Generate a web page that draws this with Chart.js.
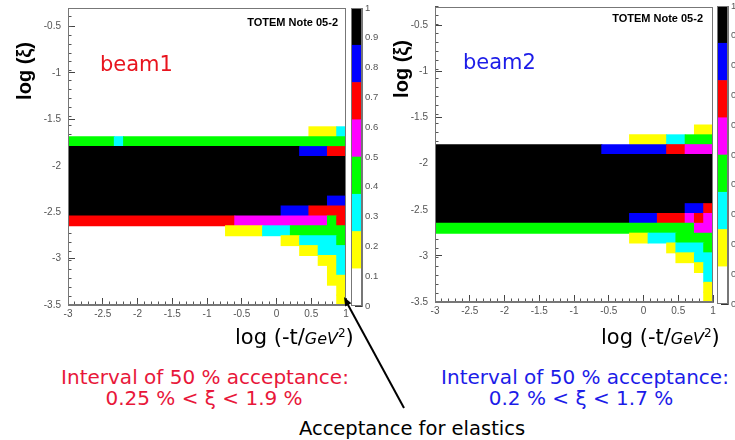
<!DOCTYPE html>
<html>
<head>
<meta charset="utf-8">
<script src="https://cdn.jsdelivr.net/npm/chart.js@4.4.1/dist/chart.umd.min.js"></script>
<style>
html,body{margin:0;padding:0;background:#fff;}
#page{position:relative;width:735px;height:440px;overflow:hidden;background:#fff;}
canvas{position:absolute;}
.t{position:absolute;white-space:nowrap;line-height:1;}
.rot{transform:translate(-50%,-50%) rotate(-90deg);font:bold 20px 'Liberation Sans',Arial,sans-serif;color:#000;}
.ctr{transform:translateX(-50%);text-align:center;}
.xt{font:21px 'DejaVu Sans',sans-serif;color:#000;}
.xt i{font-size:16px;}
.xt sup{font-size:12px;vertical-align:7px;}
.note{font:bold 11px 'Liberation Sans',Arial,sans-serif;color:#000;}
.ann{font:20px 'DejaVu Sans',sans-serif;}
</style>
</head>
<body>
<div id="page">
  <canvas id="p1" width="350" height="330" style="left:0;top:0"></canvas>
  <canvas id="cb1" width="32" height="320" style="left:350px;top:0"></canvas>
  <canvas id="p2" width="350" height="330" style="left:370px;top:0"></canvas>
  <canvas id="cb2" width="19" height="320" style="left:716px;top:0"></canvas>

  <div class="t rot" style="left:24px;top:71px;">log (ξ)</div>
  <div class="t rot" style="left:401px;top:69px;">log (ξ)</div>

  <div class="t" style="left:100px;top:52px;font:21px 'DejaVu Sans',sans-serif;color:#e8141e;">beam1</div>
  <div class="t" style="left:463px;top:50px;font:21px 'DejaVu Sans',sans-serif;color:#1c1ce8;">beam2</div>

  <div class="t note" style="right:397px;top:16px;">TOTEM Note 05-2</div>
  <div class="t note" style="right:32px;top:12px;">TOTEM Note 05-2</div>

  <div class="t xt" style="left:235px;top:325px;">log (-t/<i>GeV</i><sup>2</sup>)</div>
  <div class="t xt" style="left:601px;top:325px;">log (-t/<i>GeV</i><sup>2</sup>)</div>

  <div class="t ann ctr" style="left:205px;top:365px;color:#e8173a;">Interval of 50 % acceptance:</div>
  <div class="t ann ctr" style="left:204px;top:386px;color:#e8173a;">0.25 % &lt; ξ &lt; 1.9 %</div>
  <div class="t ann ctr" style="left:585px;top:365px;color:#1c1ce8;">Interval of 50 % acceptance:</div>
  <div class="t ann ctr" style="left:581px;top:386px;color:#1c1ce8;">0.2 % &lt; ξ &lt; 1.7 %</div>
  <div class="t ctr" style="left:412px;top:417px;font:19.5px 'DejaVu Sans',sans-serif;color:#000;">Acceptance for elastics</div>

  <svg width="735" height="440" style="position:absolute;left:0;top:0;">
    <line x1="347" y1="303" x2="404" y2="408" stroke="#000" stroke-width="2"/>
    <polygon points="344,297 351.4,303.2 345.2,306.6" fill="#000"/>
  </svg>
</div>

<script>
// ---- axis ranges / binning (30 x 30 histogram) ----
const X_RANGE = [-3, 1];          // log(-t/GeV^2)
const Y_RANGE = [-3.5, -0.3];     // log(xi)
const N_BINS_X = 30;
const N_BINS_Y = 30;

// ---- colour palette levels (acceptance) ----
const levelEdges  = [0, 0.125, 0.25, 0.375, 0.5, 0.625, 0.75, 0.875, 1];
const levelColors = ['#ffffff', '#ffff00', '#00ffff', '#00ff00', '#ff00ff', '#ff0000', '#0000ff', '#000000'];
const colorbarTicks = [0, 0.1, 0.2, 0.3, 0.4, 0.5, 0.6, 0.7, 0.8, 0.9, 1];

// ---- beam 1 acceptance cells: [row, firstCol, lastCol, acceptance] ----
const beam1Cells = [
  [17, 26, 28, 0.2], [17, 29, 29, 0.3],
  [16, 0, 4, 0.45], [16, 5, 5, 0.3], [16, 6, 29, 0.45],
  [15, 0, 24, 0.95], [15, 25, 27, 0.8], [15, 28, 29, 0.7],
  [14, 0, 29, 0.95], [13, 0, 29, 0.95], [12, 0, 29, 0.95], [11, 0, 29, 0.95],
  [10, 0, 27, 0.95], [10, 28, 29, 0.8],
  [9, 0, 22, 0.95], [9, 23, 25, 0.8], [9, 26, 29, 0.7],
  [8, 0, 17, 0.7], [8, 18, 27, 0.55], [8, 28, 28, 0.45], [8, 29, 29, 0.7],
  [7, 17, 20, 0.2], [7, 21, 23, 0.3], [7, 24, 29, 0.45],
  [6, 23, 24, 0.2], [6, 25, 28, 0.3], [6, 29, 29, 0.45],
  [5, 25, 26, 0.2], [5, 27, 29, 0.3],
  [4, 27, 28, 0.2], [4, 29, 29, 0.3],
  [3, 28, 28, 0.2], [3, 29, 29, 0.3],
  [2, 28, 29, 0.2],
  [1, 29, 29, 0.2],
  [0, 29, 29, 0.2]
];

// ---- beam 2 acceptance cells: [row, firstCol, lastCol, acceptance] ----
const beam2Cells = [
  [17, 28, 29, 0.2],
  [16, 21, 24, 0.2], [16, 25, 26, 0.3], [16, 27, 29, 0.45],
  [15, 0, 17, 0.95], [15, 18, 24, 0.8], [15, 25, 26, 0.7], [15, 27, 29, 0.55],
  [14, 0, 29, 0.95], [13, 0, 29, 0.95], [12, 0, 29, 0.95], [11, 0, 29, 0.95], [10, 0, 29, 0.95],
  [9, 0, 26, 0.95], [9, 27, 28, 0.8], [9, 29, 29, 0.7],
  [8, 0, 20, 0.95], [8, 21, 23, 0.8], [8, 24, 26, 0.7], [8, 27, 27, 0.55], [8, 28, 28, 0.7], [8, 29, 29, 0.55],
  [7, 0, 27, 0.45], [7, 28, 29, 0.55],
  [6, 21, 22, 0.2], [6, 23, 25, 0.3], [6, 26, 29, 0.45],
  [5, 25, 25, 0.2], [5, 26, 28, 0.3], [5, 29, 29, 0.45],
  [4, 26, 27, 0.2], [4, 28, 29, 0.3],
  [3, 28, 28, 0.2], [3, 29, 29, 0.3],
  [2, 29, 29, 0.3],
  [1, 29, 29, 0.2],
  [0, 29, 29, 0.2]
];

// ---- helpers ----
const xEdge = c => X_RANGE[0] + c * (X_RANGE[1] - X_RANGE[0]) / N_BINS_X;
const yCenter = r => Y_RANGE[0] + (r + 0.5) * (Y_RANGE[1] - Y_RANGE[0]) / N_BINS_Y;
const colorFor = v => {
  let i = 0;
  while (i < levelColors.length - 1 && v >= levelEdges[i + 1]) i++;
  return levelColors[i];
};
const toBars = cells => cells.map(([r, c0, c1, v]) => ({ y: yCenter(r), x: [xEdge(c0), xEdge(c1 + 1)], v }));
const fmt = v => String(Math.round(v * 10) / 10);
const noPad = s => { s.paddingTop = 0; s.paddingBottom = 0; s.paddingLeft = 0; s.paddingRight = 0; };

const TICK_FONT = { family: "'Liberation Sans', Arial, sans-serif", size: 10 };
const TICK_COLOR = '#555';
const FRAME_COLOR = '#777';

const framePlugin = {
  id: 'frame',
  afterDraw(chart) {
    const { ctx, chartArea: a } = chart;
    ctx.save();
    ctx.strokeStyle = FRAME_COLOR;
    ctx.lineWidth = 1;
    ctx.strokeRect(Math.round(a.left) + 0.5, Math.round(a.top) + 0.5,
                   Math.round(a.right) - Math.round(a.left) - 1, Math.round(a.bottom) - Math.round(a.top) - 1);
    ctx.restore();
  }
};

function panel(id, cells, g) {
  return new Chart(document.getElementById(id), {
    type: 'bar',
    data: {
      datasets: [{
        data: toBars(cells),
        xAxisID: 'x', yAxisID: 'y',
        backgroundColor: ctx => colorFor(ctx.raw.v),
        borderWidth: 0,
        barPercentage: 1,
        categoryPercentage: 1,
        inflateAmount: 0.5
      }]
    },
    options: {
      indexAxis: 'y',
      responsive: false,
      animation: false,
      devicePixelRatio: 1,
      layout: { padding: { top: g.top, right: g.right, left: 0, bottom: 0 } },
      plugins: { legend: { display: false }, tooltip: { enabled: false } },
      scales: {
        x: {
          type: 'linear', position: 'bottom', min: X_RANGE[0], max: X_RANGE[1],
          ticks: { stepSize: 0.5, autoSkip: false, maxRotation: 0, font: TICK_FONT, color: TICK_COLOR, padding: 10, callback: fmt },
          grid: { drawOnChartArea: false, tickLength: -7, tickColor: '#444' },
          border: { color: FRAME_COLOR },
          afterFit: s => { s.height = g.xh; noPad(s); }
        },
        xMinor: {
          type: 'linear', position: 'bottom', weight: -1, min: X_RANGE[0], max: X_RANGE[1],
          ticks: { stepSize: 0.1, display: false },
          grid: { drawOnChartArea: false, tickLength: -3.5, tickColor: '#555' },
          border: { display: false },
          afterFit: s => { s.height = 0; noPad(s); }
        },
        y: {
          type: 'linear', position: 'left', min: Y_RANGE[0], max: Y_RANGE[1], offset: false,
          ticks: { stepSize: 0.5, includeBounds: false, autoSkip: false, font: TICK_FONT, color: TICK_COLOR, padding: 14, callback: fmt },
          grid: { drawOnChartArea: false, offset: false, tickLength: -7, tickColor: '#444' },
          border: { color: FRAME_COLOR },
          afterFit: s => { s.width = g.yw; noPad(s); }
        },
        yMinor: {
          type: 'linear', position: 'left', weight: -1, min: Y_RANGE[0], max: Y_RANGE[1],
          ticks: { stepSize: 0.1, display: false },
          grid: { drawOnChartArea: false, tickLength: -3.5, tickColor: '#555' },
          border: { display: false },
          afterFit: s => { s.width = 0; noPad(s); }
        }
      }
    },
    plugins: [framePlugin]
  });
}

function colorbar(id, g) {
  return new Chart(document.getElementById(id), {
    type: 'bar',
    data: {
      labels: ['acceptance'],
      datasets: levelColors.map((c, i) => ({
        data: [[levelEdges[i], levelEdges[i + 1]]],
        backgroundColor: c,
        borderWidth: 0,
        grouped: false,
        barPercentage: 1,
        categoryPercentage: 1
      }))
    },
    options: {
      responsive: false,
      animation: false,
      devicePixelRatio: 1,
      layout: { padding: { top: g.top, left: 1, right: 0, bottom: g.bottom } },
      plugins: { legend: { display: false }, tooltip: { enabled: false } },
      scales: {
        x: { display: false },
        y: {
          type: 'linear', position: 'right', min: 0, max: 1,
          afterBuildTicks: s => { s.ticks = colorbarTicks.map(v => ({ value: v })); },
          ticks: { autoSkip: false, font: { family: "'Liberation Sans', Arial, sans-serif", size: 9.5 }, color: TICK_COLOR, padding: 10, callback: fmt },
          grid: { drawOnChartArea: false, tickLength: -7, tickColor: '#333' },
          border: { color: FRAME_COLOR },
          afterFit: s => { s.width = g.w; noPad(s); }
        }
      }
    },
    plugins: [framePlugin]
  });
}

panel('p1', beam1Cells, { top: 8, right: 4, yw: 68, xh: 25 });
panel('p2', beam2Cells, { top: 7, right: 7, yw: 65, xh: 28 });
colorbar('cb1', { top: 8, bottom: 14, w: 20 });
colorbar('cb2', { top: 6, bottom: 16, w: 7 });
</script>
</body>
</html>
